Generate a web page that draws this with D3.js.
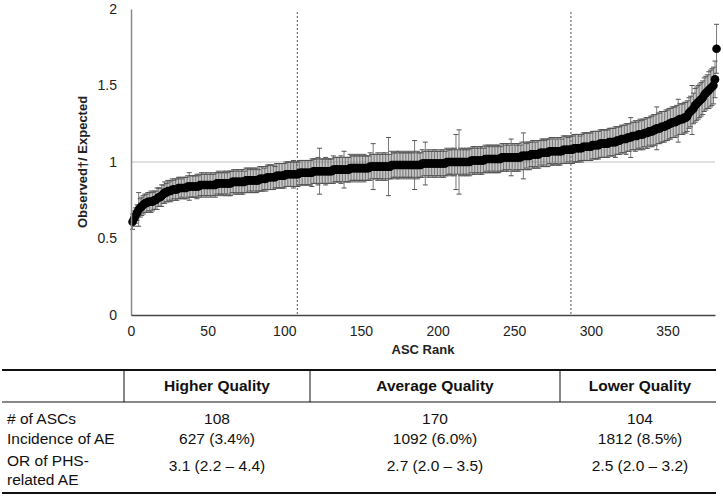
<!DOCTYPE html>
<html>
<head>
<meta charset="utf-8">
<script src="https://cdn.jsdelivr.net/npm/d3@7"></script>
<style>
  html, body { margin: 0; padding: 0; background: #fff; }
  svg { display: block; }
  .tk text { font-family: "Liberation Sans", Arial, sans-serif; font-size: 14px; fill: #222; }
  .tbl { font-family: "Liberation Sans Narrow", "Arial Narrow", "Liberation Sans", sans-serif; font-size: 15.5px; fill: #111; }
</style>
</head>
<body>
<svg id="chart" width="723" height="498"></svg>
<script>
// Observed/Expected ratio of each ASC, ordered by rank (1..382)
const ratio = [
0.61,0.63,0.65,0.67,0.69,0.70,0.71,0.72,0.73,0.73,
0.74,0.74,0.74,0.74,0.75,0.75,0.76,0.77,0.77,0.78,
0.79,0.80,0.80,0.81,0.81,0.81,0.82,0.82,0.82,0.82,
0.83,0.83,0.83,0.83,0.83,0.83,0.84,0.84,0.84,0.84,
0.84,0.84,0.84,0.84,0.85,0.85,0.85,0.85,0.85,0.85,
0.85,0.85,0.85,0.85,0.85,0.86,0.86,0.86,0.86,0.86,
0.86,0.86,0.86,0.86,0.86,0.87,0.87,0.87,0.87,0.87,
0.87,0.87,0.87,0.87,0.88,0.88,0.88,0.88,0.88,0.88,
0.88,0.88,0.88,0.89,0.89,0.89,0.89,0.89,0.90,0.90,
0.90,0.90,0.90,0.90,0.91,0.91,0.91,0.91,0.91,0.91,
0.92,0.92,0.92,0.92,0.92,0.92,0.92,0.92,0.92,0.93,
0.93,0.93,0.93,0.93,0.93,0.93,0.93,0.93,0.94,0.94,
0.94,0.94,0.94,0.94,0.94,0.94,0.94,0.94,0.94,0.94,
0.94,0.95,0.95,0.95,0.95,0.95,0.95,0.95,0.95,0.95,
0.95,0.95,0.96,0.96,0.96,0.96,0.96,0.96,0.96,0.96,
0.96,0.96,0.96,0.96,0.96,0.97,0.97,0.97,0.97,0.97,
0.97,0.97,0.97,0.97,0.97,0.97,0.97,0.97,0.97,0.98,
0.98,0.98,0.98,0.98,0.98,0.98,0.98,0.98,0.98,0.98,
0.98,0.98,0.98,0.98,0.98,0.98,0.98,0.98,0.98,0.99,
0.99,0.99,0.99,0.99,0.99,0.99,0.99,0.99,0.99,0.99,
0.99,0.99,0.99,0.99,0.99,1.00,1.00,1.00,1.00,1.00,
1.00,1.00,1.00,1.00,1.00,1.00,1.00,1.00,1.00,1.00,
1.00,1.01,1.01,1.01,1.01,1.01,1.01,1.01,1.01,1.01,
1.02,1.02,1.02,1.02,1.02,1.02,1.02,1.02,1.02,1.02,
1.02,1.03,1.03,1.03,1.03,1.03,1.03,1.03,1.03,1.03,
1.03,1.03,1.03,1.03,1.04,1.04,1.04,1.04,1.04,1.04,
1.05,1.05,1.05,1.05,1.05,1.05,1.06,1.06,1.06,1.06,
1.06,1.06,1.07,1.07,1.07,1.07,1.07,1.07,1.07,1.07,
1.07,1.08,1.08,1.08,1.08,1.08,1.08,1.08,1.09,1.09,
1.09,1.09,1.09,1.09,1.10,1.10,1.10,1.10,1.10,1.10,
1.11,1.11,1.11,1.11,1.11,1.12,1.12,1.12,1.12,1.12,
1.12,1.13,1.13,1.13,1.13,1.13,1.14,1.14,1.14,1.15,
1.15,1.15,1.15,1.16,1.16,1.16,1.17,1.17,1.17,1.17,
1.18,1.18,1.18,1.18,1.19,1.19,1.19,1.20,1.20,1.20,
1.21,1.21,1.22,1.22,1.22,1.23,1.23,1.23,1.24,1.24,
1.25,1.25,1.26,1.26,1.26,1.27,1.27,1.28,1.28,1.28,
1.29,1.29,1.30,1.32,1.33,1.34,1.35,1.37,1.38,1.39,
1.40,1.41,1.42,1.44,1.45,1.46,1.47,1.48,1.49,1.50,
1.54,1.74
];
// half-width of the confidence interval for each ASC
const halfCI = [
.05,.05,.05,.05,.11,.06,.06,.06,.06,.06,
.06,.06,.07,.06,.06,.06,.07,.06,.06,.07,
.06,.07,.06,.07,.06,.07,.07,.06,.07,.07,
.07,.07,.06,.07,.07,.07,.07,.09,.07,.07,
.07,.07,.08,.07,.07,.08,.07,.07,.08,.07,
.07,.08,.07,.07,.08,.07,.08,.07,.07,.08,
.07,.08,.07,.08,.08,.07,.08,.07,.08,.08,
.07,.08,.08,.07,.08,.08,.07,.08,.08,.07,
.08,.08,.07,.08,.08,.08,.07,.08,.08,.08,
.08,.08,.08,.07,.08,.08,.08,.08,.08,.08,
.08,.08,.08,.08,.08,.09,.08,.08,.08,.08,
.08,.08,.08,.08,.08,.08,.08,.09,.08,.08,
.08,.09,.15,.08,.08,.08,.09,.08,.08,.08,
.08,.09,.08,.08,.08,.08,.09,.08,.12,.08,
.08,.08,.09,.08,.08,.09,.08,.08,.09,.08,
.08,.09,.08,.08,.08,.09,.08,.15,.08,.08,
.09,.08,.08,.09,.08,.09,.08,.19,.08,.09,
.08,.08,.09,.08,.09,.08,.08,.09,.08,.08,
.09,.08,.08,.09,.16,.08,.09,.08,.08,.09,
.08,.14,.08,.09,.08,.08,.09,.08,.09,.08,
.08,.09,.08,.09,.08,.09,.08,.08,.09,.08,
.09,.18,.08,.21,.09,.08,.09,.08,.09,.08,
.09,.08,.09,.09,.08,.09,.08,.09,.09,.08,
.09,.08,.09,.09,.08,.09,.09,.08,.09,.09,
.08,.09,.09,.08,.09,.09,.08,.12,.09,.09,
.08,.09,.09,.08,.09,.15,.09,.08,.09,.09,
.08,.09,.09,.08,.09,.09,.08,.09,.09,.08,
.09,.09,.08,.09,.09,.09,.08,.09,.09,.09,
.08,.09,.09,.09,.08,.09,.09,.09,.09,.09,
.09,.09,.08,.09,.09,.09,.09,.09,.09,.09,
.09,.09,.09,.09,.09,.09,.09,.09,.09,.09,
.09,.09,.09,.09,.09,.10,.09,.09,.09,.09,
.09,.09,.10,.09,.09,.13,.09,.09,.10,.09,
.09,.10,.09,.10,.09,.10,.10,.09,.10,.10,
.10,.10,.14,.10,.10,.10,.10,.10,.10,.10,
.10,.10,.10,.10,.10,.10,.14,.10,.10,.10,
.10,.10,.10,.10,.10,.16,.10,.11,.11,.11,
.11,.11,.11,.11,.11,.11,.12,.12,.12,.12,
.12,.16
];
const xTicks = [0, 50, 100, 150, 200, 250, 300, 350];
const yTicks = [0, 0.5, 1, 1.5, 2];
const groupCuts = [108.5, 287];   // dotted separators between quality groups
const refValue = 1;

// summary table
const groups = ["Higher Quality", "Average Quality", "Lower Quality"];
const rowLabels = [["# of ASCs"], ["Incidence of AE"], ["OR of PHS-", "related AE"]];
const nASCs = ["108", "170", "104"];
const incidence = ["627 (3.4%)", "1092 (6.0%)", "1812 (8.5%)"];
const oddsRatio = ["3.1 (2.2 \u2013 4.4)", "2.7 (2.0 \u2013 3.5)", "2.5 (2.0 \u2013 3.2)"];

const svg = d3.select("#chart");
svg.append("rect").attr("width", 723).attr("height", 498).attr("fill", "#fff");

const x = d3.scaleLinear().domain([0, 381]).range([131, 715]);
const y = d3.scaleLinear().domain([0, 2]).range([315, 9]);

const data = ratio.map((v, i) => ({ rank: i + 1, v, h: halfCI[i] }));

// reference line at 1
svg.append("line")
  .attr("x1", x(0)).attr("x2", x(381))
  .attr("y1", y(refValue)).attr("y2", y(refValue))
  .attr("stroke", "#c4c4c4").attr("stroke-width", 1.2);

// dotted group separators
svg.selectAll("line.cut").data(groupCuts).join("line")
  .attr("class", "cut")
  .attr("x1", d => x(d)).attr("x2", d => x(d))
  .attr("y1", 12).attr("y2", y(0))
  .attr("stroke", "#555").attr("stroke-width", 1)
  .attr("stroke-dasharray", "2,2");

// error bars
const eb = svg.append("g");
eb.selectAll("line.v").data(data).join("line")
  .attr("x1", d => x(d.rank)).attr("x2", d => x(d.rank))
  .attr("y1", d => y(d.v + d.h)).attr("y2", d => y(d.v - d.h))
  .attr("stroke", "#7a7a7a").attr("stroke-width", 1);
eb.selectAll("line.t").data(data).join("line")
  .attr("x1", d => x(d.rank) - 2.5).attr("x2", d => x(d.rank) + 2.5)
  .attr("y1", d => y(d.v + d.h)).attr("y2", d => y(d.v + d.h))
  .attr("stroke", "#555").attr("stroke-width", 1);
eb.selectAll("line.b").data(data).join("line")
  .attr("x1", d => x(d.rank) - 2.5).attr("x2", d => x(d.rank) + 2.5)
  .attr("y1", d => y(d.v - d.h)).attr("y2", d => y(d.v - d.h))
  .attr("stroke", "#555").attr("stroke-width", 1);

// points
svg.append("g").selectAll("circle").data(data).join("circle")
  .attr("cx", d => x(d.rank)).attr("cy", d => y(d.v))
  .attr("r", 4.3).attr("fill", "#000");

// axes
const yAxis = svg.append("g").attr("class", "tk")
  .attr("transform", `translate(${x(0)},0)`)
  .call(d3.axisLeft(y).tickValues(yTicks).tickFormat(d => String(d)).tickSize(0).tickSizeOuter(0).tickPadding(14));
yAxis.select(".domain").attr("stroke", "#8a8a8a").attr("stroke-width", 1.5);

const xAxis = svg.append("g").attr("class", "tk")
  .attr("transform", `translate(0,${y(0)})`)
  .call(d3.axisBottom(x).tickValues(xTicks).tickFormat(d => String(d)).tickSize(0).tickSizeOuter(0).tickPadding(11));
xAxis.select(".domain").attr("stroke", "#444").attr("stroke-width", 1.5);

// axis titles
svg.append("text")
  .attr("transform", `translate(82,${y(1)}) rotate(-90)`)
  .attr("text-anchor", "middle").attr("dominant-baseline", "central")
  .style("font-family", "'Liberation Sans', Arial, sans-serif")
  .style("font-size", "13px").style("font-weight", "bold").attr("fill", "#222")
  .text("Observed\u2020/ Expected");

svg.append("text")
  .attr("x", (x(0) + x(381)) / 2).attr("y", 354)
  .attr("text-anchor", "middle")
  .style("font-family", "'Liberation Sans', Arial, sans-serif")
  .style("font-size", "13px").style("font-weight", "bold").attr("fill", "#222")
  .text("ASC Rank");

// table
const tLeft = 2, tRight = 716;
const colSep = [124, 310, 560];
const colCenter = [217, 435, 640];
const tbl = svg.append("g");
tbl.append("line").attr("x1", tLeft).attr("x2", tRight).attr("y1", 370).attr("y2", 370).attr("stroke", "#111").attr("stroke-width", 2);
tbl.append("line").attr("x1", tLeft).attr("x2", tRight).attr("y1", 402).attr("y2", 402).attr("stroke", "#111").attr("stroke-width", 1);
tbl.append("line").attr("x1", tLeft).attr("x2", tRight).attr("y1", 493).attr("y2", 493).attr("stroke", "#111").attr("stroke-width", 2);
tbl.selectAll("line.sep").data(colSep).join("line")
  .attr("x1", d => d).attr("x2", d => d).attr("y1", 370).attr("y2", 402)
  .attr("stroke", "#111").attr("stroke-width", 1);

tbl.selectAll("text.hd").data(groups).join("text")
  .attr("class", "tbl").attr("x", (d, i) => colCenter[i]).attr("y", 391)
  .attr("text-anchor", "middle").style("font-weight", "bold").text(d => d);

const rowBase = [424, 444, 466];
rowLabels.forEach((lines, r) => {
  lines.forEach((t, k) => {
    tbl.append("text").attr("class", "tbl")
      .attr("x", 7).attr("y", rowBase[r] + k * 19).text(t);
  });
});
const rowsVals = [nASCs, incidence, oddsRatio];
const rowValY = [424, 444, 471];
rowsVals.forEach((vals, r) => {
  tbl.selectAll(null).data(vals).join("text")
    .attr("class", "tbl").attr("x", (d, i) => colCenter[i]).attr("y", rowValY[r])
    .attr("text-anchor", "middle").text(d => d);
});
</script>
</body>
</html>
